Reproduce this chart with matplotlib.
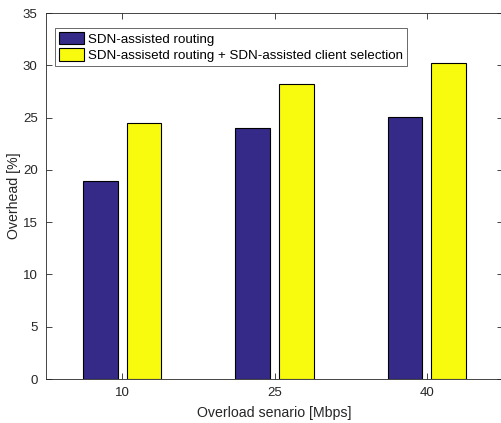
import matplotlib
matplotlib.use("Agg")
import matplotlib.pyplot as plt
import numpy as np

categories = ["10", "25", "40"]
series_names = ["SDN-assisted routing", "SDN-assisetd routing + SDN-assisted client selection"]
routing = [18.9, 24.05, 25.1]
routing_client = [24.45, 28.2, 30.25]
yticks = [0, 5, 10, 15, 20, 25, 30, 35]

plt.rcParams['font.family'] = ['Liberation Sans', 'DejaVu Sans']
fig = plt.figure(figsize=(5.01, 4.23), dpi=100)
W, H = 501, 423
ax = fig.add_axes([46 / W, 1 - 379 / H, (503 - 46) / W, (379 - 13) / H])

x = np.arange(1, len(categories) + 1)
bw = 0.228
off = 0.143
ax.bar(x - off, routing, bw, color='#352a87', edgecolor='black', linewidth=0.8, label=series_names[0])
ax.bar(x + off, routing_client, bw, color='#f9fb0e', edgecolor='black', linewidth=0.8, label=series_names[1])

ax.set_xlim(0.5, 3.5)
ax.set_ylim(0, 35)
ax.set_xticks(x)
ax.set_xticklabels(categories)
ax.set_yticks(yticks)
ax.tick_params(direction='in', top=True, right=True, length=4, width=0.6, colors='#262626', labelsize=9.5, pad=6)
for s in ax.spines.values():
    s.set_color('#262626')
    s.set_linewidth(0.6)
ax.set_xlabel("Overload senario [Mbps]", fontsize=10.2, color='#262626', labelpad=5)
ax.set_ylabel("Overhead [%]", fontsize=10.2, color='#262626', labelpad=1)

leg = ax.legend(loc='upper left', bbox_to_anchor=(9 / 457, 1 - 15 / 366), fontsize=9.6,
                frameon=True, fancybox=False, edgecolor='#262626', handlelength=1.9, handleheight=1.05,
                handletextpad=0.3, borderpad=0.3, labelspacing=0.2, borderaxespad=0)
leg.get_frame().set_linewidth(0.6)

fig.savefig("out.png", dpi=100)
